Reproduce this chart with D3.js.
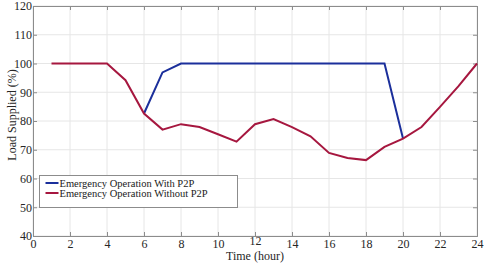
<!DOCTYPE html>
<html>
<head>
<meta charset="utf-8">
<script src="https://cdn.jsdelivr.net/npm/d3@7"></script>
<style>
  body { margin: 0; background: #fff; }
  svg { display: block; }
</style>
</head>
<body>
<script>
const WIDTH = 484, HEIGHT = 263;
const MARGIN = { top: 6, right: 7, bottom: 27, left: 33 };

const hoursWithout = [1, 2, 3, 4, 5, 6, 7, 8, 9, 10, 11, 12, 13, 14, 15, 16, 17, 18, 19, 20, 21, 22, 23, 24];
const loadWithout = [100, 100, 100, 100, 94.2, 82.6, 77.0, 78.9, 77.9, 75.4, 72.8, 78.9, 80.7, 77.9, 74.7, 68.9, 67.1, 66.4, 71.0, 73.9, 77.9, 84.9, 92.1, 100];
const hoursWith = [6, 7, 8, 9, 10, 11, 12, 13, 14, 15, 16, 17, 18, 19, 20];
const loadWith = [82.6, 96.9, 100, 100, 100, 100, 100, 100, 100, 100, 100, 100, 100, 100, 73.9];

const xTicks = [0, 2, 4, 6, 8, 10, 12, 14, 16, 18, 20, 22, 24];
const yTicks = [40, 50, 60, 70, 80, 90, 100, 110, 120];
const seriesNames = ['Emergency Operation With P2P', 'Emergency Operation Without P2P'];

const COLOR_WITH = '#1b2f9b';
const COLOR_WITHOUT = '#a6173f';
const FONT = '"Liberation Serif", "Times New Roman", serif';

const svg = d3.select('body').append('svg')
    .attr('width', WIDTH)
    .attr('height', HEIGHT);

const x = d3.scaleLinear().domain([0, 24]).range([MARGIN.left, WIDTH - MARGIN.right]);
const y = d3.scaleLinear().domain([40, 120]).range([HEIGHT - MARGIN.bottom, MARGIN.top]);

// Grid
const grid = svg.append('g');
grid.selectAll('line.vg').data(xTicks).join('line')
    .attr('x1', d => x(d)).attr('x2', d => x(d))
    .attr('y1', y(40)).attr('y2', y(120))
    .attr('stroke', '#e6e6e6').attr('stroke-width', 1);
grid.selectAll('line.hg').data(yTicks).join('line')
    .attr('x1', x(0)).attr('x2', x(24))
    .attr('y1', d => y(d)).attr('y2', d => y(d))
    .attr('stroke', '#e6e6e6').attr('stroke-width', 1);

// Axes (ticks inward)
const axisStyle = g => {
    g.select('.domain').attr('stroke', '#8c8c8c');
    g.selectAll('.tick line').attr('stroke', '#8c8c8c');
    g.selectAll('.tick text').attr('font-family', FONT).attr('font-size', 12).attr('fill', '#262626');
};

const xAxis = svg.append('g')
    .attr('transform', `translate(0,${y(40)})`)
    .call(d3.axisBottom(x).tickValues(xTicks).tickSize(-4).tickPadding(3).tickFormat(d3.format('d')))
    .call(axisStyle);
// the "12" label sits a little higher in the original
xAxis.selectAll('.tick').filter(d => d === 12).select('text').attr('y', 0);

svg.append('g')
    .attr('transform', `translate(0,${y(120)})`)
    .call(d3.axisTop(x).tickValues(xTicks).tickSize(-4).tickFormat(''))
    .call(axisStyle);
svg.append('g')
    .attr('transform', `translate(${x(0)},0)`)
    .call(d3.axisLeft(y).tickValues(yTicks).tickSize(-4).tickPadding(1).tickFormat(d3.format('d')))
    .call(axisStyle);
svg.append('g')
    .attr('transform', `translate(${x(24)},0)`)
    .call(d3.axisRight(y).tickValues(yTicks).tickSize(-4).tickFormat(''))
    .call(axisStyle);

// Lines
const line = d3.line().x(d => x(d[0])).y(d => y(d[1]));
svg.append('path')
    .datum(d3.zip(hoursWith, loadWith))
    .attr('d', line)
    .attr('fill', 'none')
    .attr('stroke', COLOR_WITH)
    .attr('stroke-width', 2);
svg.append('path')
    .datum(d3.zip(hoursWithout, loadWithout))
    .attr('d', line)
    .attr('fill', 'none')
    .attr('stroke', COLOR_WITHOUT)
    .attr('stroke-width', 2);

// Axis titles
svg.append('text')
    .attr('x', (x(0) + x(24)) / 2)
    .attr('y', 260)
    .attr('text-anchor', 'middle')
    .attr('font-family', FONT).attr('font-size', 12).attr('fill', '#262626')
    .text('Time (hour)');
svg.append('text')
    .attr('transform', `translate(13,115) rotate(-90)`)
    .attr('text-anchor', 'middle')
    .attr('dominant-baseline', 'middle')
    .attr('font-family', FONT).attr('font-size', 12).attr('fill', '#262626')
    .text('Load Supplied (%)');

// Legend
const legend = svg.append('g').attr('transform', 'translate(39.5,175.5)');
legend.append('rect')
    .attr('width', 198).attr('height', 32)
    .attr('fill', '#fff').attr('stroke', '#8c8c8c');
[COLOR_WITH, COLOR_WITHOUT].forEach((c, i) => {
    const ly = 7.5 + i * 10;
    legend.append('line')
        .attr('x1', 6).attr('x2', 19).attr('y1', ly).attr('y2', ly)
        .attr('stroke', c).attr('stroke-width', 2);
    legend.append('text')
        .attr('x', 20).attr('y', ly + 4)
        .attr('font-family', FONT).attr('font-size', 10.5).attr('fill', '#1a1a1a')
        .text(seriesNames[i]);
});
</script>
</body>
</html>
